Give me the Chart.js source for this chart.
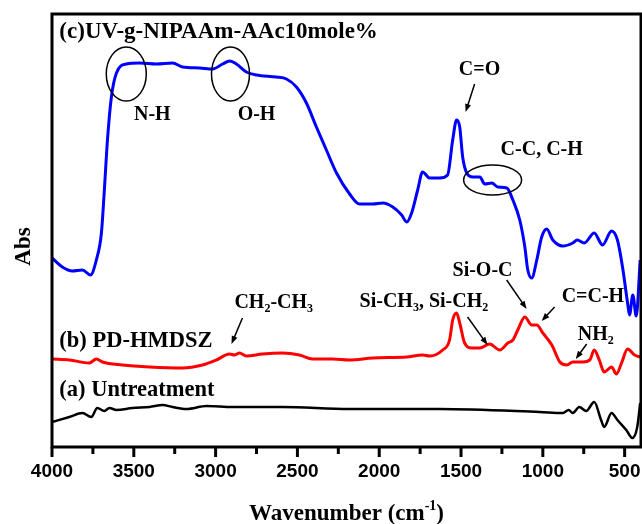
<!DOCTYPE html>
<html>
<head>
<meta charset="utf-8">
<script src="https://cdn.jsdelivr.net/npm/chart.js@4.4.1/dist/chart.umd.min.js"></script>
<style>
  html, body { margin: 0; padding: 0; background: #fff; }
  #wrap { width: 642px; height: 524px; }
</style>
</head>
<body>
<div id="wrap"><canvas id="ftirChart"></canvas></div>
<script>
// Spectra: wavenumber (cm-1) and absorbance (a.u., traces offset)
const untreatedWn  = [4000, 3894, 3814, 3760, 3723, 3680, 3649, 3606, 3508, 3404, 3324, 3263, 3178, 3055, 2896, 2592, 2182, 1631, 1019, 878, 842, 817, 777, 735, 686, 644, 625, 580, 544, 490, 453, 423, 405];
const untreatedAbs = [0.25, 0.30, 0.34, 0.30, 0.39, 0.36, 0.39, 0.37, 0.39, 0.40, 0.42, 0.40, 0.38, 0.41, 0.40, 0.40, 0.38, 0.38, 0.35, 0.34, 0.37, 0.34, 0.40, 0.36, 0.45, 0.27, 0.20, 0.34, 0.27, 0.17, 0.09, 0.20, 0.44];

const hmdszWn  = [4000, 3894, 3772, 3729, 3692, 3569, 3404, 3202, 3080, 2995, 2915, 2885, 2854, 2812, 2714, 2592, 2488, 2408, 2286, 2182, 2039, 1832, 1735, 1692, 1612, 1570, 1551, 1527, 1508, 1478, 1435, 1385, 1325, 1263, 1214, 1183, 1153, 1110, 1068, 1037, 1000, 945, 896, 853, 817, 755, 713, 686, 655, 625, 580, 550, 519, 482, 439, 405];
const hmdszAbs = [0.88, 0.87, 0.84, 0.88, 0.85, 0.82, 0.80, 0.79, 0.82, 0.87, 0.93, 0.92, 0.94, 0.91, 0.93, 0.94, 0.92, 0.88, 0.88, 0.87, 0.89, 0.90, 0.92, 0.91, 0.97, 1.07, 1.27, 1.34, 1.24, 1.04, 0.99, 0.99, 1.03, 0.97, 1.04, 1.07, 1.17, 1.30, 1.22, 1.22, 1.14, 1.02, 0.85, 0.82, 0.85, 0.85, 0.87, 0.97, 0.87, 0.75, 0.80, 0.73, 0.84, 0.98, 0.92, 0.90];

const graftWn  = [4000, 3937, 3876, 3814, 3765, 3729, 3698, 3680, 3661, 3637, 3606, 3545, 3465, 3361, 3263, 3202, 3098, 3018, 2957, 2915, 2873, 2812, 2751, 2628, 2567, 2506, 2445, 2384, 2323, 2261, 2181, 2120, 2039, 1978, 1917, 1863, 1832, 1802, 1765, 1735, 1692, 1631, 1582, 1551, 1527, 1508, 1490, 1465, 1428, 1385, 1355, 1312, 1275, 1220, 1183, 1141, 1110, 1092, 1068, 1037, 1007, 976, 939, 878, 817, 790, 747, 686, 635, 580, 544, 513, 482, 470, 450, 429, 405];
const graftAbs = [1.89, 1.80, 1.76, 1.77, 1.72, 1.87, 2.14, 2.57, 3.07, 3.50, 3.74, 3.83, 3.84, 3.83, 3.84, 3.80, 3.79, 3.78, 3.83, 3.86, 3.83, 3.75, 3.72, 3.70, 3.68, 3.60, 3.44, 3.20, 2.97, 2.74, 2.53, 2.43, 2.43, 2.44, 2.40, 2.32, 2.25, 2.34, 2.57, 2.75, 2.69, 2.69, 2.72, 3.07, 3.27, 3.20, 2.90, 2.74, 2.70, 2.70, 2.63, 2.64, 2.60, 2.59, 2.47, 2.27, 2.00, 1.77, 1.69, 1.87, 2.10, 2.18, 2.07, 2.01, 2.04, 2.07, 2.04, 2.14, 2.02, 2.16, 2.07, 1.80, 1.44, 1.32, 1.52, 1.31, 1.87];

const majorTicks = [4000, 3500, 3000, 2500, 2000, 1500, 1000, 500];

// annotation text: [text, 'sub' | 'sup' | undefined] parts, anchored in chart units
const notes = [
  { parts: [['(c)UV-g-NIPAAm-AAc10mole%']], wn: 3955, abs: 4.09, size: 23, align: 'left' },
  { parts: [['(b) PD-HMDSZ']], wn: 3955, abs: 1.00, size: 22.5, align: 'left' },
  { parts: [['(a) Untreatment']], wn: 3955, abs: 0.51, size: 22.5, align: 'left' },
  { parts: [['N-H']], wn: 3387, abs: 3.27, size: 20, align: 'center' },
  { parts: [['O-H']], wn: 2750, abs: 3.27, size: 20, align: 'center' },
  { parts: [['C=O']], wn: 1387, abs: 3.72, size: 20, align: 'center' },
  { parts: [['C-C, C-H']], wn: 1007, abs: 2.92, size: 20, align: 'center' },
  { parts: [['CH'], ['2', 'sub'], ['-CH'], ['3', 'sub']], wn: 2885, abs: 1.39, size: 20, align: 'left' },
  { parts: [['Si-CH'], ['3', 'sub'], [', Si-CH'], ['2', 'sub']], wn: 2120, abs: 1.40, size: 20, align: 'left' },
  { parts: [['Si-O-C']], wn: 1552, abs: 1.71, size: 20, align: 'left' },
  { parts: [['C=C-H']], wn: 885, abs: 1.45, size: 20, align: 'left' },
  { parts: [['NH'], ['2', 'sub']], wn: 787, abs: 1.07, size: 20, align: 'left' }
];

// arrows: tail -> head
const arrows = [
  [1417, 3.63, 1472, 3.35],
  [2836, 1.29, 2903, 1.03],
  [1460, 1.30, 1338, 1.02],
  [1221, 1.67, 1099, 1.38],
  [928, 1.40, 1007, 1.26],
  [732, 1.03, 799, 0.88]
];

// circled bands: centre in chart units, radii in px
const rings = [
  { wn: 3546, abs: 3.73, rx: 20, ry: 27 },
  { wn: 2909, abs: 3.73, rx: 19, ry: 27 },
  { wn: 1307, abs: 2.67, rx: 29, ry: 15 }
];

const SERIF = '"Liberation Serif", "Times New Roman", serif';

function toPoints(wn, abs) {
  return wn.map((w, i) => ({ x: w, y: abs[i] }));
}

function drawRich(ctx, parts, x, y, size, align) {
  const main = `bold ${size}px ${SERIF}`;
  const small = `bold ${Math.round(size * 0.62)}px ${SERIF}`;
  let w = 0;
  parts.forEach(p => { ctx.font = p[1] ? small : main; w += ctx.measureText(p[0]).width; });
  let cx = align === 'center' ? x - w / 2 : x;
  parts.forEach(p => {
    ctx.font = p[1] ? small : main;
    const dy = p[1] === 'sub' ? size * 0.22 : (p[1] === 'sup' ? -size * 0.42 : 0);
    ctx.fillText(p[0], cx, y + dy);
    cx += ctx.measureText(p[0]).width;
  });
}

const annotate = {
  id: 'annotate',
  afterDatasetsDraw(chart) {
    const { ctx, chartArea: a, scales: { x, y } } = chart;
    ctx.save();
    ctx.strokeStyle = '#000';
    ctx.fillStyle = '#000';

    // frame + ticks
    ctx.lineWidth = 3;
    ctx.strokeRect(a.left, a.top, a.right - a.left, a.bottom - a.top);
    for (let v = 4000; v >= 500; v -= 250) {
      const px = x.getPixelForValue(v);
      const len = v % 500 === 0 ? 10 : 7;
      ctx.beginPath();
      ctx.moveTo(px, a.bottom);
      ctx.lineTo(px, a.bottom + len);
      ctx.stroke();
    }

    // text
    ctx.textBaseline = 'alphabetic';
    ctx.textAlign = 'left';
    notes.forEach(n => {
      drawRich(ctx, n.parts, x.getPixelForValue(n.wn), y.getPixelForValue(n.abs), n.size, n.align);
    });

    // axis titles
    drawRich(ctx, [['Wavenumber (cm'], ['-1', 'sup'], [')']], (a.left + a.right) / 2, 520, 23, 'center');
    ctx.save();
    ctx.translate(30, (a.top + a.bottom) / 2 + 16);
    ctx.rotate(-Math.PI / 2);
    drawRich(ctx, [['Abs']], 0, 0, 23, 'center');
    ctx.restore();

    // arrows
    ctx.lineWidth = 1.5;
    arrows.forEach(([w0, a0, w1, a1]) => {
      const x0 = x.getPixelForValue(w0), y0 = y.getPixelForValue(a0);
      const x1 = x.getPixelForValue(w1), y1 = y.getPixelForValue(a1);
      const ang = Math.atan2(y1 - y0, x1 - x0);
      ctx.beginPath();
      ctx.moveTo(x0, y0);
      ctx.lineTo(x1 - 5 * Math.cos(ang), y1 - 5 * Math.sin(ang));
      ctx.stroke();
      ctx.beginPath();
      ctx.moveTo(x1, y1);
      ctx.lineTo(x1 - 8 * Math.cos(ang) + 3 * Math.sin(ang), y1 - 8 * Math.sin(ang) - 3 * Math.cos(ang));
      ctx.lineTo(x1 - 8 * Math.cos(ang) - 3 * Math.sin(ang), y1 - 8 * Math.sin(ang) + 3 * Math.cos(ang));
      ctx.closePath();
      ctx.fill();
    });

    // ellipses
    rings.forEach(r => {
      ctx.beginPath();
      ctx.ellipse(x.getPixelForValue(r.wn), y.getPixelForValue(r.abs), r.rx, r.ry, 0, 0, Math.PI * 2);
      ctx.stroke();
    });
    ctx.restore();
  }
};

const ctx = document.getElementById('ftirChart').getContext('2d');
new Chart(ctx, {
  type: 'line',
  data: {
    datasets: [
      { label: '(a) Untreatment', data: toPoints(untreatedWn, untreatedAbs), borderColor: '#000000', borderWidth: 2.5 },
      { label: '(b) PD-HMDSZ', data: toPoints(hmdszWn, hmdszAbs), borderColor: '#ff0000', borderWidth: 3 },
      { label: '(c)UV-g-NIPAAm-AAc10mole%', data: toPoints(graftWn, graftAbs), borderColor: '#0000ff', borderWidth: 3 }
    ]
  },
  options: {
    responsive: true,
    maintainAspectRatio: false,
    animation: false,
    layout: { padding: { left: 52, right: 1, top: 14, bottom: 0 } },
    elements: {
      point: { radius: 0 },
      line: { cubicInterpolationMode: 'monotone', fill: false }
    },
    plugins: {
      legend: { display: false },
      tooltip: { enabled: false }
    },
    scales: {
      x: {
        type: 'linear',
        reverse: true,
        min: 400,
        max: 4000,
        border: { display: false },
        grid: { drawOnChartArea: false, drawTicks: true, tickLength: 13, tickColor: 'rgba(0,0,0,0)' },
        ticks: {
          padding: 0,
          color: '#000',
          font: { family: '"Liberation Sans", Arial, sans-serif', size: 19, weight: 'bold' },
          callback: v => String(v)
        },
        afterBuildTicks: scale => { scale.ticks = majorTicks.map(v => ({ value: v })); },
        afterFit: scale => { scale.height = 77; }
      },
      y: {
        display: false,
        min: 0,
        max: 4.33
      }
    }
  },
  plugins: [annotate]
});
</script>
</body>
</html>
